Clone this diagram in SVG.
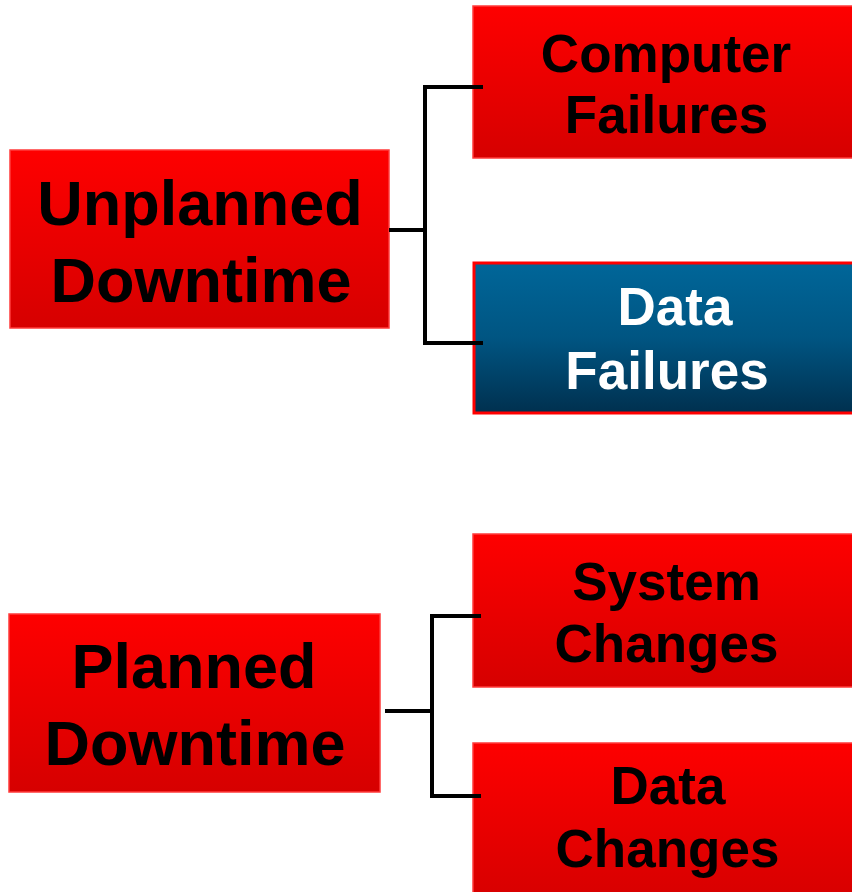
<svg xmlns="http://www.w3.org/2000/svg" width="852" height="892" viewBox="0 0 852 892">
<defs>
<linearGradient id="red" x1="0" y1="0" x2="0" y2="1">
<stop offset="0" stop-color="#fe0000"/>
<stop offset="1" stop-color="#d60000"/>
</linearGradient>
<linearGradient id="blue" x1="0" y1="0" x2="0" y2="1">
<stop offset="0" stop-color="#006699"/>
<stop offset="0.5" stop-color="#005582"/>
<stop offset="1" stop-color="#00304f"/>
</linearGradient>
<style>
.r{fill:url(#red);stroke:#ff3b3b;stroke-width:1.5}
.b{fill:url(#blue);stroke:#ff0000;stroke-width:3}
.t{font-family:"Liberation Sans",Arial,sans-serif;font-weight:bold;text-anchor:middle;fill:#000}
.w{fill:#fff}
.c{fill:none;stroke:#000;stroke-width:4}
</style>
</defs>
<g id="unplanned">
<rect class="r" x="10" y="150" width="379" height="178"/>
<text class="t" font-size="63" x="200" y="225">Unplanned</text>
<text class="t" font-size="63" x="201" y="302">Downtime</text>
</g>
<g id="computer-failures">
<rect class="r" x="473" y="6" width="390" height="152"/>
<text class="t" font-size="53" x="666" y="72">Computer</text>
<text class="t" font-size="53" x="666.5" y="133">Failures</text>
</g>
<g id="data-failures">
<rect class="b" x="474" y="263" width="390" height="150"/>
<text class="t w" font-size="53" x="675" y="325">Data</text>
<text class="t w" font-size="53" x="667" y="389">Failures</text>
</g>
<g id="planned">
<rect class="r" x="9" y="614" width="371" height="178"/>
<text class="t" font-size="63" x="194" y="688">Planned</text>
<text class="t" font-size="63" x="195" y="765">Downtime</text>
</g>
<g id="system-changes">
<rect class="r" x="473" y="534" width="390" height="153"/>
<text class="t" font-size="53" x="666.5" y="600">System</text>
<text class="t" font-size="53" x="666.5" y="662">Changes</text>
</g>
<g id="data-changes">
<rect class="r" x="473" y="743" width="390" height="160"/>
<text class="t" font-size="53" x="668" y="804">Data</text>
<text class="t" font-size="53" x="667.5" y="867">Changes</text>
</g>
<g id="connectors">
<path class="c" d="M389 230H425M483 87H425V343H483"/>
<path class="c" d="M385 711H430M481 616H432V796H481"/>
</g>
</svg>
